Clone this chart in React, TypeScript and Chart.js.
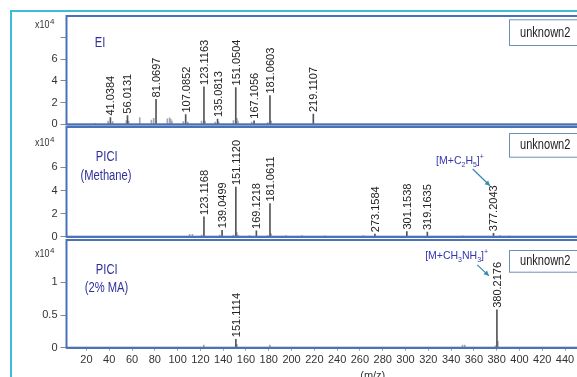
import React, { useEffect, useRef } from "react";
import { Chart, registerables } from "chart.js";

Chart.register(...registerables);

const FONT = '"Liberation Sans", Arial, sans-serif';
const CANVAS_W = 679;
const CANVAS_H = 400;
const X_MIN = 2.5;
const X_MAX = 540;
const LABEL_GAP = 2;

// ---- x axis (m/z) ----
const xTickValues = [20, 40, 60, 80, 100, 120, 140, 160, 180, 200, 220, 240, 260, 280, 300, 320, 340, 360, 380, 400, 420, 440];

// ---- Panel 1: EI (intensity x10^4) ----
const eiPeakMz = [41.0384, 56.0131, 81.0697, 107.0852, 123.1163, 135.0813, 151.0504, 167.1056, 181.0603, 219.1107];
const eiPeakIntensity = [0.62, 0.8, 2.3, 0.9, 3.45, 0.48, 3.4, 0.33, 2.65, 0.95];
const eiMinorMz = [28, 39, 43, 55, 57, 66.8, 77, 79, 91, 93, 94, 95, 105, 109, 121, 124, 133, 136, 149, 152, 153, 165, 179, 182];
const eiMinorIntensity = [0.1, 0.3, 0.25, 0.35, 0.3, 0.62, 0.4, 0.55, 0.5, 0.6, 0.45, 0.3, 0.25, 0.2, 0.3, 0.3, 0.2, 0.2, 0.35, 0.55, 0.3, 0.2, 0.15, 0.3];

// ---- Panel 2: PICI (Methane) ----
const mePeakMz = [123.1168, 139.0499, 151.112, 169.1218, 181.0611, 273.1584, 301.1538, 319.1635, 377.2043];
const mePeakIntensity = [1.71, 0.56, 4.3, 0.5, 2.87, 0.22, 0.45, 0.4, 0.3];
const meMinorMz = [110.5, 113, 121, 137, 149, 152, 153, 163, 179, 182, 195, 209, 229, 263, 350, 383, 391];
const meMinorIntensity = [0.2, 0.2, 0.15, 0.15, 0.15, 0.35, 0.15, 0.1, 0.1, 0.25, 0.1, 0.1, 0.08, 0.1, 0.08, 0.1, 0.08];

// ---- Panel 3: PICI (2% MA) ----
const maPeakMz = [151.1114, 380.2176];
const maPeakIntensity = [0.13, 0.58];
const maMinorMz = [123, 152, 181, 350, 352, 379, 381];
const maMinorIntensity = [0.04, 0.05, 0.04, 0.04, 0.04, 0.03, 0.1];

// ---- Text ----
const boxText = "unknown2";
const expText = "x10";
const expPower = "4";

type Part = [string, "n" | "sub" | "sup"];

interface Panel {
  peakMz: number[];
  peakInt: number[];
  minorMz: number[];
  minorInt: number[];
  yMax: number;
  yTicks: number[];
  yLabeled: number[];
  top: number;
  bottom: number;
  showX: boolean;
  titles: [string, number, number][];
  expY: number;
  boxTop: number;
  boxH: number;
  annotation?: {
    peakIndex: number;
    parts: Part[];
    text: [number, number];
    from: [number, number];
    to: [number, number];
  };
}

const PANELS: Panel[] = [
  {
    peakMz: eiPeakMz,
    peakInt: eiPeakIntensity,
    minorMz: eiMinorMz,
    minorInt: eiMinorIntensity,
    yMax: 10,
    yTicks: [0, 2, 4, 6, 8],
    yLabeled: [0, 2, 4, 6],
    top: 16,
    bottom: 124.3,
    showX: false,
    titles: [["EI", 100, 43]],
    expY: 25,
    boxTop: 19.3,
    boxH: 25.7,
  },
  {
    peakMz: mePeakMz,
    peakInt: mePeakIntensity,
    minorMz: meMinorMz,
    minorInt: meMinorIntensity,
    yMax: 9.5,
    yTicks: [0, 2, 4, 6],
    yLabeled: [0, 2, 4, 6],
    top: 127,
    bottom: 236.7,
    showX: false,
    titles: [
      ["PICI", 106.7, 156.7],
      ["(Methane)", 106, 175.7],
    ],
    expY: 143,
    boxTop: 133,
    boxH: 23.7,
    annotation: {
      peakIndex: 8,
      parts: [
        ["[M+C", "n"],
        ["2", "sub"],
        ["H", "n"],
        ["5", "sub"],
        ["]", "n"],
        ["+", "sup"],
      ],
      text: [-33.5, -25.3],
      from: [-20.8, -16.3],
      to: [-3.5, 0.4],
    },
  },
  {
    peakMz: maPeakMz,
    peakInt: maPeakIntensity,
    minorMz: maMinorMz,
    minorInt: maMinorIntensity,
    yMax: 1.65,
    yTicks: [0, 0.5, 1],
    yLabeled: [0, 0.5, 1],
    top: 240,
    bottom: 347.7,
    showX: true,
    titles: [
      ["PICI", 106.7, 270],
      ["(2% MA)", 106.5, 288],
    ],
    expY: 254,
    boxTop: 250,
    boxH: 21.7,
    annotation: {
      peakIndex: 1,
      parts: [
        ["[M+CH", "n"],
        ["3", "sub"],
        ["NH", "n"],
        ["3", "sub"],
        ["]", "n"],
        ["+", "sup"],
      ],
      text: [-40.3, -7.1],
      from: [-19.7, 2.9],
      to: [-8, 13.9],
    },
  },
];

function drawRich(ctx: CanvasRenderingContext2D, parts: Part[], cx: number, cy: number, size: number, color: string) {
  const fN = `${size}px ${FONT}`;
  const fS = `${Math.round(size * 0.68)}px ${FONT}`;
  let w = 0;
  for (const p of parts) {
    ctx.font = p[1] === "n" ? fN : fS;
    w += ctx.measureText(p[0]).width;
  }
  ctx.save();
  ctx.fillStyle = color;
  ctx.textAlign = "left";
  ctx.textBaseline = "alphabetic";
  let x = cx - w / 2;
  const base = cy + size * 0.36;
  for (const p of parts) {
    ctx.font = p[1] === "n" ? fN : fS;
    const dy = p[1] === "sub" ? size * 0.3 : p[1] === "sup" ? -size * 0.42 : 0;
    ctx.fillText(p[0], x, base + dy);
    x += ctx.measureText(p[0]).width;
  }
  ctx.restore();
}

function decor(p: Panel) {
  return {
    id: "decor",
    afterDatasetsDraw(chart: any) {
      const { ctx, chartArea: a, scales } = chart;
      const xs = scales.x;
      const ys = scales.y;
      ctx.save();

      // panel frame
      ctx.strokeStyle = "#4a72b6";
      ctx.lineWidth = 2;
      ctx.strokeRect(a.left, a.top, a.right - a.left, a.bottom - a.top);
      ctx.beginPath();
      ctx.lineWidth = 1.5;
      ctx.moveTo(a.left, a.bottom + 0.5);
      ctx.lineTo(a.right, a.bottom + 0.5);
      ctx.stroke();

      // peak labels (rotated)
      ctx.fillStyle = "#222";
      ctx.font = `11px ${FONT}`;
      ctx.textAlign = "left";
      ctx.textBaseline = "alphabetic";
      const tops: { px: number; top: number }[] = [];
      p.peakMz.forEach((m, i) => {
        const px = xs.getPixelForValue(m);
        const py = ys.getPixelForValue(p.peakInt[i]) - LABEL_GAP;
        const txt = m.toFixed(4);
        const tw = ctx.measureText(txt).width;
        tops.push({ px, top: py - tw });
        ctx.save();
        ctx.translate(px, py);
        ctx.rotate(-Math.PI / 2);
        ctx.fillText(txt, 0, 4);
        ctx.restore();
      });

      // panel titles
      ctx.fillStyle = "#30309a";
      ctx.font = `14px ${FONT}`;
      ctx.textAlign = "center";
      ctx.textBaseline = "middle";
      for (const [t, x, y] of p.titles) {
        ctx.save();
        ctx.translate(x, y);
        ctx.scale(0.8, 1);
        ctx.fillText(t, 0, 0);
        ctx.restore();
      }

      // x10^4
      ctx.fillStyle = "#333";
      ctx.textAlign = "left";
      ctx.textBaseline = "middle";
      ctx.save();
      ctx.translate(35, p.expY);
      ctx.scale(0.85, 1);
      ctx.font = `10.5px ${FONT}`;
      ctx.fillText(expText, 0, 0);
      ctx.restore();
      ctx.font = `8px ${FONT}`;
      ctx.fillText(expPower, 50, p.expY - 3.5);

      // sample box
      ctx.fillStyle = "#fff";
      ctx.fillRect(509, p.boxTop, 140, p.boxH);
      ctx.strokeStyle = "#7090b8";
      ctx.lineWidth = 1;
      ctx.strokeRect(509.5, p.boxTop + 0.5, 140, p.boxH);
      ctx.fillStyle = "#222";
      ctx.save();
      ctx.translate(520, p.boxTop + p.boxH / 2 + 0.5);
      ctx.scale(0.79, 1);
      ctx.font = `14px ${FONT}`;
      ctx.textAlign = "left";
      ctx.textBaseline = "middle";
      ctx.fillText(boxText, 0, 0);
      ctx.restore();

      // annotation
      if (p.annotation) {
        const an = p.annotation;
        const ref = tops[an.peakIndex];
        drawRich(ctx, an.parts, ref.px + an.text[0], ref.top + an.text[1], 10.5, "#3535b0");
        const x1 = ref.px + an.from[0];
        const y1 = ref.top + an.from[1];
        const x2 = ref.px + an.to[0];
        const y2 = ref.top + an.to[1];
        ctx.strokeStyle = "#3b8bb0";
        ctx.fillStyle = "#3b8bb0";
        ctx.lineWidth = 1.3;
        ctx.beginPath();
        ctx.moveTo(x1, y1);
        ctx.lineTo(x2, y2);
        ctx.stroke();
        const ang = Math.atan2(y2 - y1, x2 - x1);
        const hl = 5;
        const hw = 2.6;
        ctx.beginPath();
        ctx.moveTo(x2, y2);
        ctx.lineTo(x2 - hl * Math.cos(ang) + hw * Math.sin(ang), y2 - hl * Math.sin(ang) - hw * Math.cos(ang));
        ctx.lineTo(x2 - hl * Math.cos(ang) - hw * Math.sin(ang), y2 - hl * Math.sin(ang) + hw * Math.cos(ang));
        ctx.closePath();
        ctx.fill();
      }
      ctx.restore();
    },
  };
}

function buildConfig(p: Panel): any {
  const labelFont = { family: FONT, size: 11 };
  return {
    type: "bar",
    data: {
      datasets: [
        {
          data: p.minorMz.map((x, i) => ({ x, y: p.minorInt[i] })),
          backgroundColor: "#a3a6b3",
          barThickness: 1,
          borderWidth: 0,
          grouped: false,
          order: 2,
        },
        {
          data: p.peakMz.map((x, i) => ({ x, y: p.peakInt[i] })),
          backgroundColor: "#555",
          barThickness: 1,
          borderWidth: 0,
          grouped: false,
          order: 1,
        },
      ],
    },
    options: {
      responsive: false,
      animation: false,
      devicePixelRatio: 1,
      events: [],
      layout: {
        padding: { left: 0, right: 0, top: p.top, bottom: p.showX ? 0 : CANVAS_H - p.bottom },
      },
      plugins: { legend: { display: false }, tooltip: { enabled: false }, title: { display: false } },
      scales: {
        x: {
          type: "linear",
          min: X_MIN,
          max: X_MAX,
          offset: false,
          display: p.showX,
          afterBuildTicks: (s: any) => {
            s.ticks = xTickValues.map((v) => ({ value: v }));
          },
          afterFit: (s: any) => {
            s.height = p.showX ? CANVAS_H - p.bottom : 0;
          },
          grid: { drawOnChartArea: false, drawTicks: true, tickLength: 3, color: "#999", offset: false },
          border: { display: false },
          ticks: { font: labelFont, color: "#333", padding: 3, maxRotation: 0, autoSkip: false },
          title: {
            display: true,
            text: "(m/z)",
            font: { family: FONT, size: 11 },
            color: "#333",
            padding: { top: 0, bottom: CANVAS_H - 376 - 6.6 },
          },
        },
        y: {
          type: "linear",
          min: 0,
          max: p.yMax,
          afterBuildTicks: (s: any) => {
            s.ticks = p.yTicks.map((v) => ({ value: v }));
          },
          afterFit: (s: any) => {
            s.width = 66.5;
          },
          grid: { drawOnChartArea: false, drawTicks: true, tickLength: 6, color: "#888" },
          border: { display: false },
          ticks: {
            font: labelFont,
            color: "#333",
            padding: 3,
            callback: (v: number) => (p.yLabeled.includes(v) ? String(v) : ""),
          },
        },
      },
    },
    plugins: [decor(p)],
  };
}

export default function App() {
  const refs = useRef<(HTMLCanvasElement | null)[]>([]);

  useEffect(() => {
    const charts = PANELS.map((p, i) => new Chart(refs.current[i] as HTMLCanvasElement, buildConfig(p)));
    return () => charts.forEach((c) => c.destroy());
  }, []);

  return (
    <div
      style={{
        position: "fixed",
        left: 0,
        top: 0,
        width: 577,
        height: 377,
        overflow: "hidden",
        background: "#fff",
      }}
    >
      <div
        style={{
          position: "absolute",
          left: 10,
          top: 10,
          width: 900,
          height: 600,
          border: "2px solid #3fbbd7",
          boxSizing: "border-box",
        }}
      />
      {PANELS.map((_, i) => (
        <canvas
          key={i}
          ref={(el) => {
            refs.current[i] = el;
          }}
          width={CANVAS_W}
          height={CANVAS_H}
          style={{ position: "absolute", left: 0, top: 0 }}
        />
      ))}
    </div>
  );
}
